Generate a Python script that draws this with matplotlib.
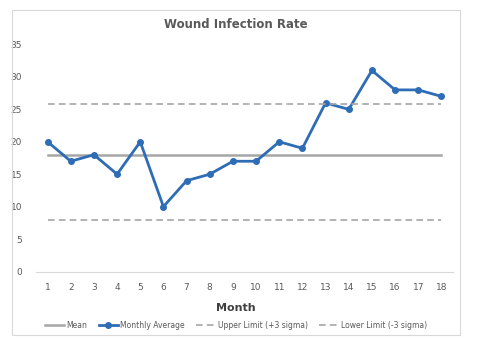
import numpy as np
import matplotlib.pyplot as plt
from matplotlib.patches import Rectangle

months = list(range(1, 19))
monthly_avg = [20, 17, 18, 15, 20, 10, 14, 15, 17, 17, 20, 19, 26, 25, 31, 28, 28, 27]
mean_val = 17.9
upper_val = 25.9
lower_val = 7.9

fig = plt.figure(figsize=(4.81, 3.45), dpi=100)
fig.patch.set_facecolor('white')

# chart border
fig.patches.append(Rectangle((12 / 481, 1 - 335 / 345), 448 / 481, 325 / 345,
                             transform=fig.transFigure, fill=False,
                             edgecolor='#d9d9d9', linewidth=0.8))

ax = fig.add_axes([36 / 481, 1 - 271.5 / 345, 417 / 481, 227 / 345])

ax.plot(months, [mean_val] * len(months), color='#a6a6a6', lw=1.8, label='Mean')
ax.plot(months, monthly_avg, color='#2e6db5', lw=2, marker='o', ms=4,
        label='Monthly Average')
ax.plot(months, [upper_val] * len(months), color='#a6a6a6', lw=1.2,
        ls=(0, (4, 2.5)), label='Upper Limit (+3 sigma)')
ax.plot(months, [lower_val] * len(months), color='#a6a6a6', lw=1.2,
        ls=(0, (4, 2.5)), label='Lower Limit (-3 sigma)')

ax.set_xlim(0.5, 18.5)
ax.set_ylim(0, 35)
ax.set_xticks(months)
ax.set_yticks(range(0, 36, 5))
ax.tick_params(length=0, labelsize=6.5, colors='#595959')
ax.tick_params(axis='x', pad=8)
ax.tick_params(axis='y', pad=10)
for s in ['top', 'right', 'left']:
    ax.spines[s].set_visible(False)
ax.spines['bottom'].set_color('#d9d9d9')
ax.set_facecolor('none')

fig.text(236 / 481, 1 - 25 / 345, 'Wound Infection Rate', ha='center', va='center',
         fontsize=8.5, fontweight='bold', color='#595959')
fig.text(236 / 481, 1 - 308 / 345, 'Month', ha='center', va='center',
         fontsize=8, fontweight='bold', color='#404040')

fig.legend(loc='center', bbox_to_anchor=(236 / 481, 1 - 325 / 345), ncol=4,
           frameon=False, fontsize=5.5, labelcolor='#595959', handlelength=2.5,
           columnspacing=1.5, handletextpad=0.3)

fig.savefig('out.png', dpi=100)
